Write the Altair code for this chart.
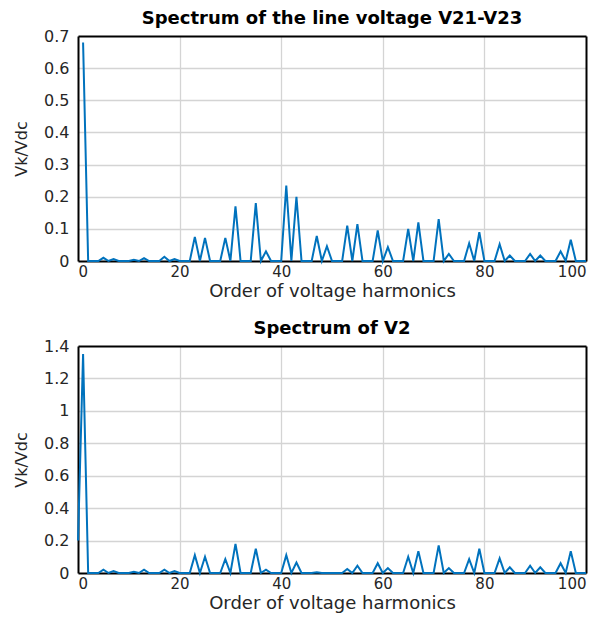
import altair as alt
import pandas as pd

# Top panel: line voltage V21-V23 (harmonic order -> Vk/Vdc)
top_h = [1, 5, 7, 11, 13, 17, 19, 23, 25, 29, 31, 35, 37, 41, 43, 47, 49, 53, 55,
         59, 61, 65, 67, 71, 73, 77, 79, 83, 85, 89, 91, 95, 97]
top_v = [0.68, 0.01, 0.006, 0.004, 0.009, 0.013, 0.006, 0.075, 0.072, 0.072, 0.17,
         0.18, 0.03, 0.235, 0.2, 0.078, 0.046, 0.11, 0.115, 0.095, 0.043, 0.1, 0.12,
         0.13, 0.022, 0.055, 0.09, 0.052, 0.017, 0.022, 0.017, 0.03, 0.066]
top_start = 1

# Bottom panel: V2
bot_h = [0, 1, 5, 7, 11, 13, 17, 19, 23, 25, 29, 31, 35, 37, 41, 43, 47, 53, 55,
         59, 61, 65, 67, 71, 73, 77, 79, 83, 85, 89, 91, 95, 97]
bot_v = [0.2, 1.35, 0.02, 0.012, 0.008, 0.02, 0.02, 0.012, 0.11, 0.1, 0.085, 0.18,
         0.15, 0.02, 0.11, 0.065, 0.005, 0.025, 0.045, 0.06, 0.03, 0.1, 0.135, 0.17,
         0.03, 0.085, 0.15, 0.09, 0.035, 0.045, 0.035, 0.06, 0.135]
bot_start = 0

x_ticks = [0, 20, 40, 60, 80, 100]
top_y_ticks = [0, 0.1, 0.2, 0.3, 0.4, 0.5, 0.6, 0.7]
bot_y_ticks = [0, 0.2, 0.4, 0.6, 0.8, 1.0, 1.2, 1.4]


def series(h, v, start):
    lookup = dict(zip(h, v))
    rows = [{"k": k, "v": lookup.get(k, 0.0)} for k in range(start, 101)]
    return pd.DataFrame(rows)


FONT = "DejaVu Sans"
BLUE = "#0072BD"
FRAME = dict(domain=True, domainColor="black", domainWidth=2, ticks=False)


def panel(df, title, ymax, yticks, h):
    xs = alt.Scale(domain=[0, 100], nice=False)
    ys = alt.Scale(domain=[0, ymax], nice=False)
    line = alt.Chart(df).mark_line(color=BLUE, strokeWidth=2).encode(
        x=alt.X("k:Q", scale=xs,
                axis=alt.Axis(values=x_ticks, title="Order of voltage harmonics",
                              format="d", grid=False, **FRAME)),
        y=alt.Y("v:Q", scale=ys,
                axis=alt.Axis(values=yticks, title="Vk/Vdc", format="~g",
                              grid=False, **FRAME)),
    )
    frame = alt.Chart(df).mark_line(opacity=0).encode(
        x=alt.X("k:Q", scale=xs,
                axis=alt.Axis(orient="top", values=x_ticks[1:-1], labels=False,
                              title=None, grid=True, **FRAME)),
        y=alt.Y("v:Q", scale=ys,
                axis=alt.Axis(orient="right", values=yticks[1:-1], labels=False,
                              title=None, grid=True, **FRAME)),
    )
    return alt.layer(frame, line).resolve_axis(
        x="independent", y="independent"
    ).properties(
        width=508, height=h,
        title=alt.TitleParams(title, font=FONT, fontSize=18, fontWeight="bold",
                              color="black", anchor="middle", offset=0),
    )


top = panel(series(top_h, top_v, top_start), "Spectrum of the line voltage V21-V23",
            0.7, top_y_ticks, 225)
bot = panel(series(bot_h, bot_v, bot_start), "Spectrum of V2", 1.4, bot_y_ticks, 227)

chart = alt.vconcat(
    top, bot, spacing=20, background="white",
    padding={"left": 5, "top": 2, "right": 5, "bottom": 2},
).configure_view(
    stroke=None
).configure_axis(
    labelFont=FONT, titleFont=FONT, labelFontSize=16, titleFontSize=18,
    labelColor="#262626", titleColor="#262626", titleFontWeight="normal",
    gridColor="#d4d4d4", gridWidth=1.3, labelPadding=4,
).configure_axisY(
    titleFontSize=16, titlePadding=14, labelPadding=9,
).configure_axisX(
    labelFontSize=15, titlePadding=3, labelPadding=3,
)

chart.save("out.html", embed_options={"renderer": "svg", "actions": False})
